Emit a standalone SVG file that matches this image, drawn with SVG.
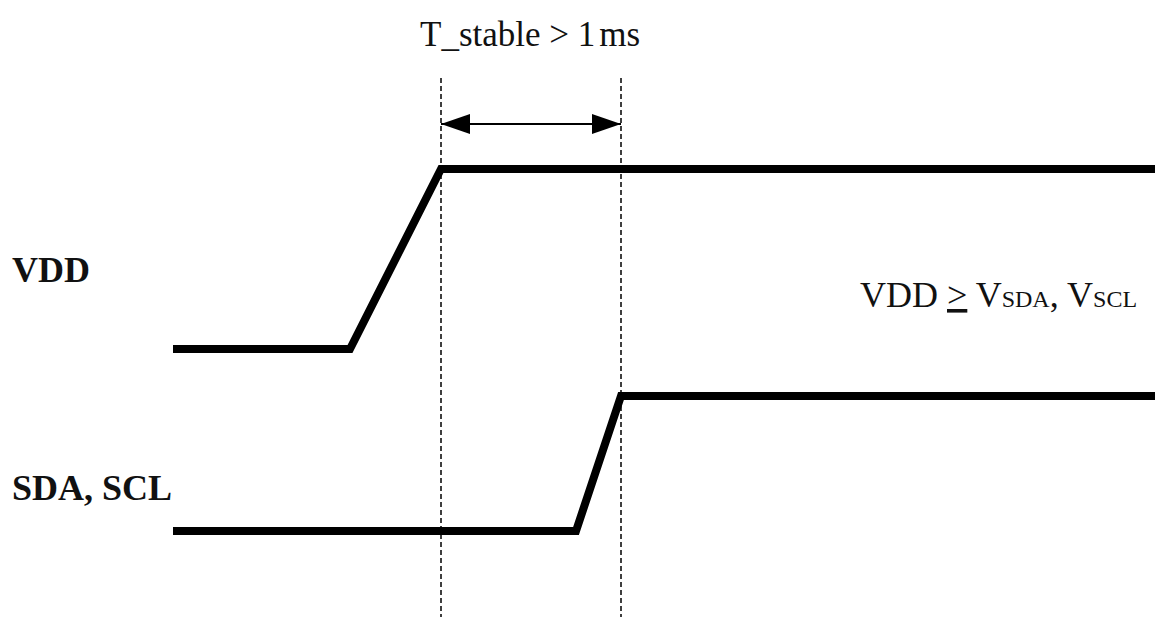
<svg xmlns="http://www.w3.org/2000/svg" width="1155" height="617" viewBox="0 0 1155 617">
<style>
.sig{fill:none;stroke:#000;stroke-width:8;stroke-linejoin:miter}
.dash{stroke:#000;stroke-width:1.5;stroke-dasharray:5,3}
.t{font-family:"Liberation Serif",serif;fill:#111}
.lbl{font-family:"Liberation Serif",serif;font-weight:bold;font-size:36px;fill:#111}
</style>
<defs>
<marker id="ah" markerWidth="29" markerHeight="20" refX="29" refY="10" orient="auto-start-reverse" markerUnits="userSpaceOnUse">
<path d="M0,0 L29,10 L0,20 Z" fill="#000"/>
</marker>
</defs>
<rect width="1155" height="617" fill="#fff"/>
<g id="vdd-label"><text class="lbl" x="12" y="282">VDD</text></g>
<g id="sda-label"><text class="lbl" x="12" y="500">SDA, SCL</text></g>
<g id="vdd-signal"><polyline class="sig" points="173,349 350,349 441,169 1155,169"/></g>
<g id="sda-signal"><polyline class="sig" points="173,531 576,531 621,396 1155,396"/></g>
<g id="connectors">
<line class="dash" x1="441" y1="78" x2="441" y2="617"/>
<line class="dash" x1="621" y1="78" x2="621" y2="617"/>
<line x1="441" y1="124" x2="621" y2="124" stroke="#000" stroke-width="2" marker-start="url(#ah)" marker-end="url(#ah)"/>
</g>
<g id="tstable"><text class="t" x="420" y="46" font-size="35">T_stable &gt; 1<tspan dx="4">ms</tspan></text></g>
<g id="cond"><text class="t" x="860" y="307" font-size="36">VDD <tspan text-decoration="underline">&gt;</tspan> V<tspan font-size="24">SDA</tspan>, V<tspan font-size="24">SCL</tspan></text></g>
</svg>
